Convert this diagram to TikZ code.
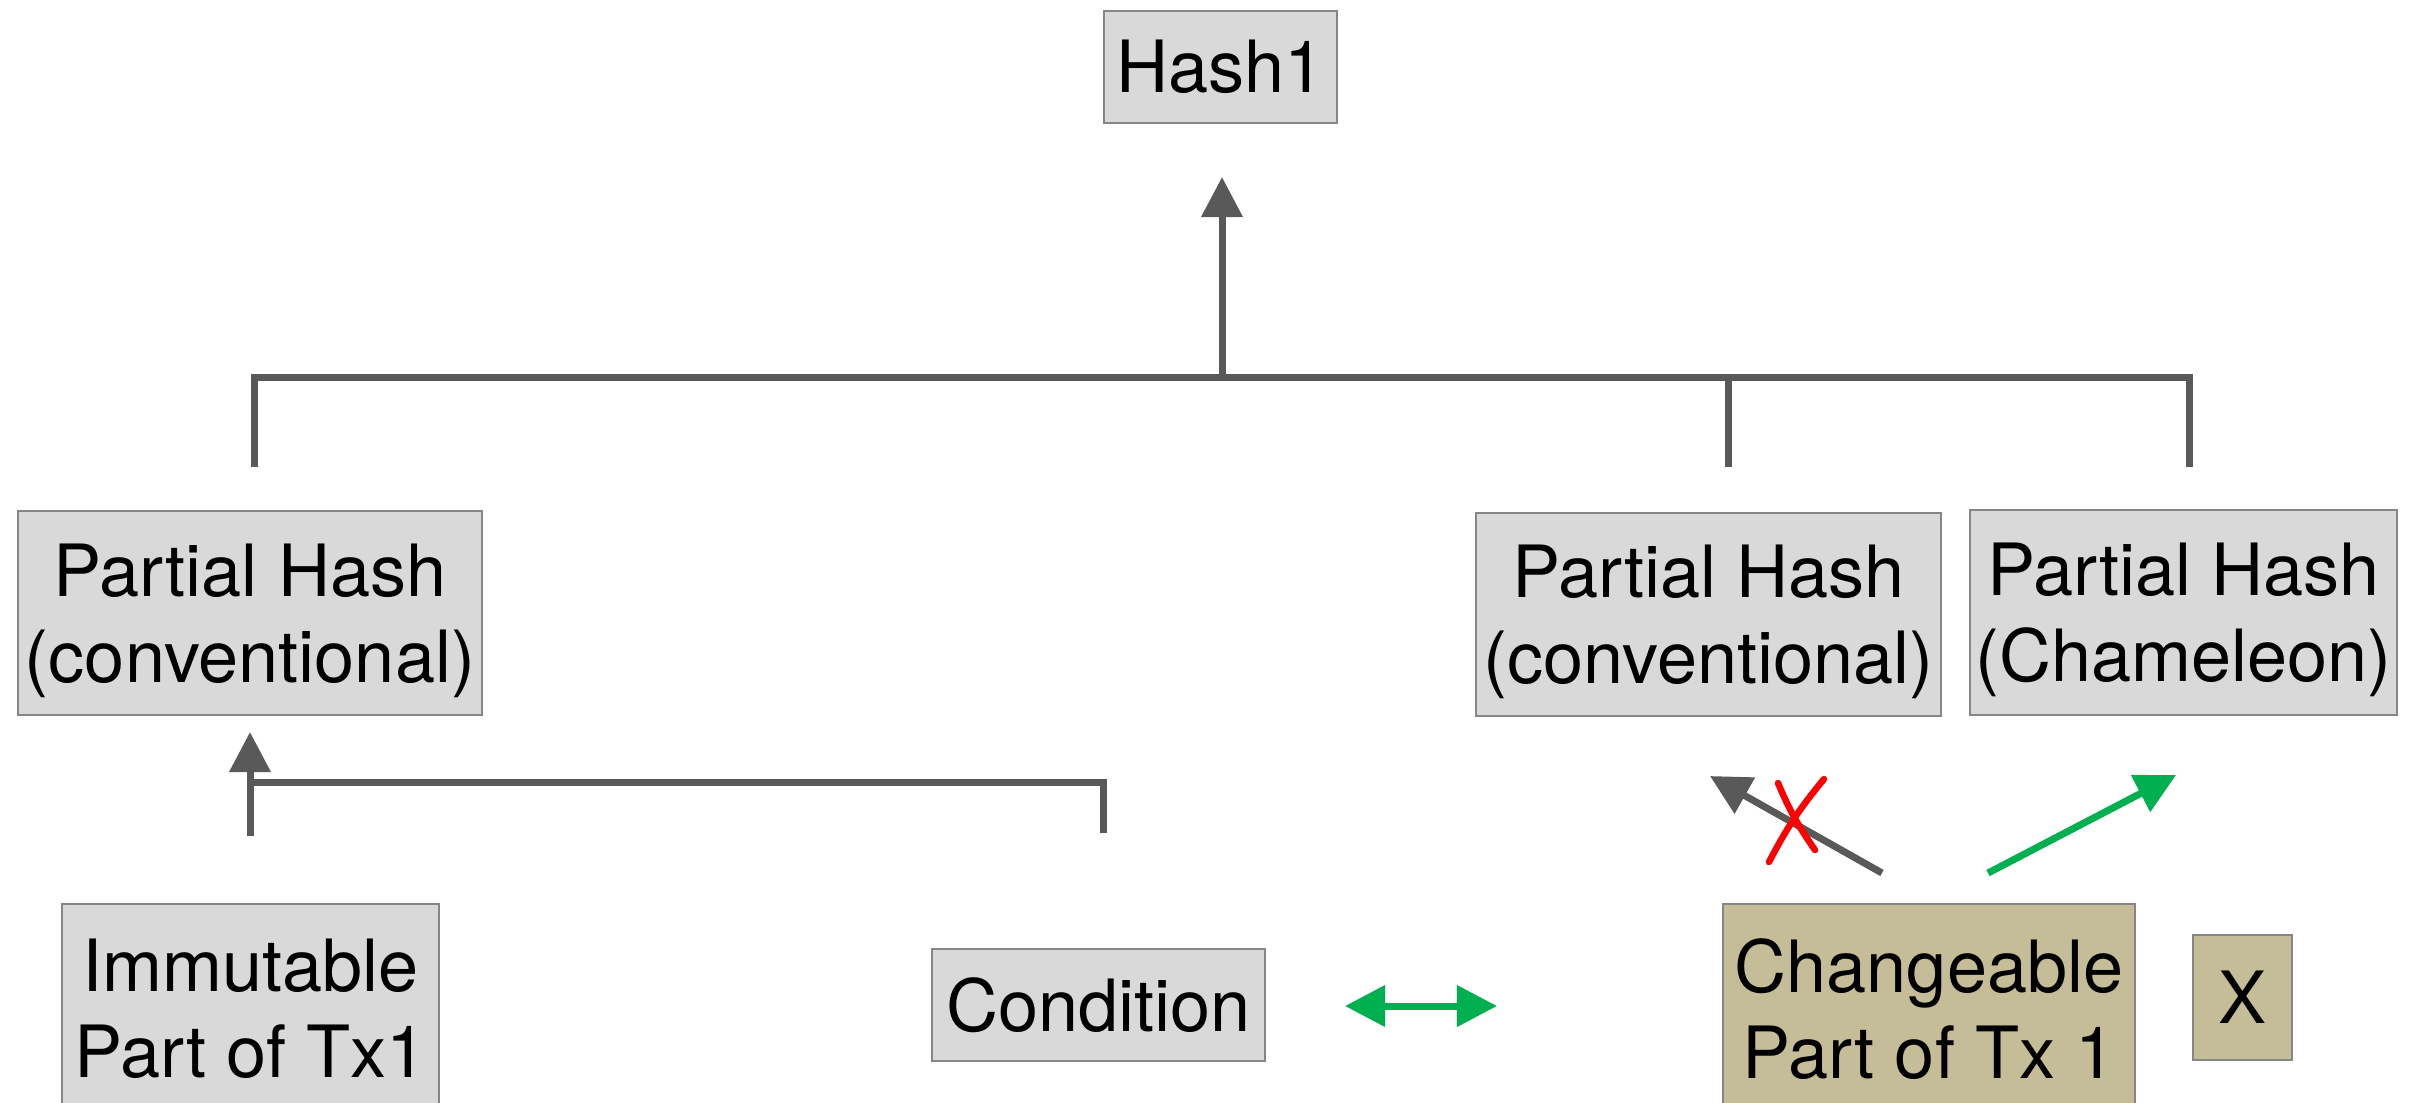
\documentclass[tikz,border=0pt]{standalone}
\usepackage{fontspec}
\setmainfont{TeX Gyre Heros}
\usetikzlibrary{arrows.meta}
\definecolor{boxgray}{HTML}{D9D9D9}
\definecolor{boxedge}{HTML}{868686}
\definecolor{tanfill}{HTML}{C4BD98}
\definecolor{wire}{HTML}{595959}
\definecolor{okgreen}{HTML}{00AF50}
\definecolor{nored}{HTML}{FF0000}
% taller first line so two-line labels with parentheses sit centred
\newcommand{\toprule}{\rule{0pt}{19.3pt}}
\begin{document}
\begin{tikzpicture}[x=0.01cm, y=-0.01cm,
  box/.style={draw=boxedge, line width=0.025cm, fill=boxgray, inner sep=0pt,
    align=center, font=\fontsize{20.5}{24.5}\selectfont},
  tanbox/.style={box, fill=tanfill},
  link/.style={draw=wire, line width=0.07cm},
  head/.style={-{Triangle[length=0.40cm, width=0.40cm]}},
  greenlink/.style={draw=okgreen, line width=0.07cm},
  cross/.style={draw=nored, line width=0.065cm, line cap=round}]
  \useasboundingbox (0,0) rectangle (2415,1102);
  \clip (0,0) rectangle (2415,1102);

  % boxes
  \node[box, minimum width=2.33cm, minimum height=1.12cm] (hash) at (1220.5,67) {Hash1};
  \node[box, minimum width=4.64cm, minimum height=2.04cm] (ph1) at (250,613) {\toprule Partial Hash\\(conventional)};
  \node[box, minimum width=4.65cm, minimum height=2.03cm] (ph2) at (1708.5,614.5) {\toprule Partial Hash\\(conventional)};
  \node[box, minimum width=4.27cm, minimum height=2.05cm] (ph3) at (2183.5,612.5) {\toprule Partial Hash\\(Chameleon)};
  \node[box, minimum width=3.77cm, minimum height=2.10cm] (imm) at (250.5,1009) {Immutable\\Part of Tx1};
  \node[box, minimum width=3.33cm, minimum height=1.12cm] (cond) at (1098.5,1005) {Condition};
  \node[tanbox, minimum width=4.12cm, minimum height=2.10cm] (chg) at (1929,1009) {Changeable\\Part of Tx 1};
  \node[tanbox, minimum width=0.99cm, minimum height=1.25cm] (xb) at (2242.5,997.5) {X};

  % upper tree into Hash1
  \coordinate (top) at (1222,177);
  \coordinate (bar) at (1222,377);
  \coordinate (t1) at (254,467);
  \coordinate (t2) at (1728,467);
  \coordinate (t3) at (2189,467);
  \draw[link] (t1) -- (t1 |- bar) -- (t3 |- bar) -- (t3);
  \draw[link] (t2) -- (t2 |- bar);
  \draw[link, head] (bar) -- (top);

  % lower-left tree into the conventional partial hash
  \coordinate (u1) at (250,836);
  \coordinate (u2) at (250,732);
  \coordinate (j) at (250,782);
  \coordinate (cb) at (1103,833);
  \draw[link, head] (u1) -- (u2);
  \draw[link] (j) -- (j -| cb) -- (cb);

  % changeable part: blocked and allowed paths
  \coordinate (g0) at (1882,873);
  \coordinate (g1) at (1710,776);
  \coordinate (h0) at (1988,873);
  \coordinate (h1) at (2176,775);
  \draw[link, head] (g0) -- (g1);
  \draw[greenlink, head] (h0) -- (h1);
  \draw[cross] (1769,862) to[bend left=6] (1824,779);
  \draw[cross] (1778,783) to[bend right=6] (1815,850);

  % condition <-> changeable part
  \coordinate (d0) at (1345,1006);
  \coordinate (d1) at (1497,1006);
  \draw[greenlink, {Triangle[length=0.40cm, width=0.40cm]}-{Triangle[length=0.40cm, width=0.40cm]}] (d0) -- (d1);
\end{tikzpicture}
\end{document}
